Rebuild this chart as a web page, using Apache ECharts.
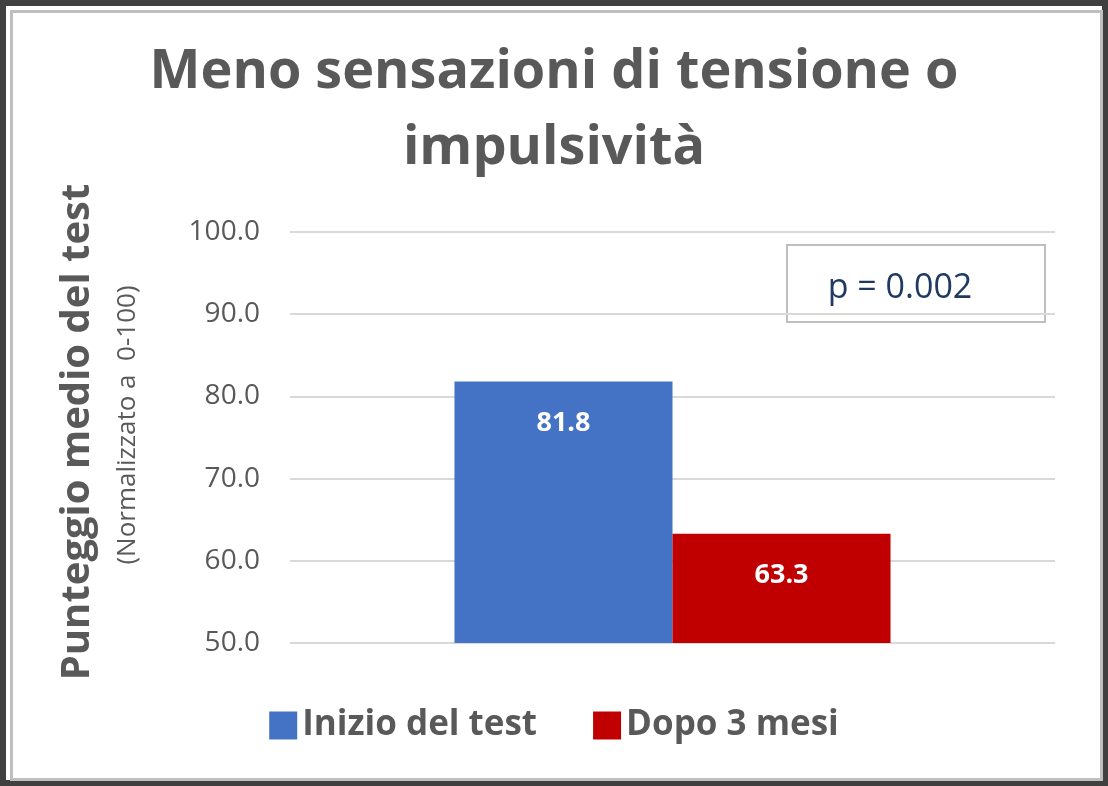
<!DOCTYPE html>
<html>
<head>
<meta charset="utf-8">
<title>Meno sensazioni di tensione o impulsività</title>
<script src="https://cdn.jsdelivr.net/npm/echarts@6/dist/echarts.min.js"></script>
<style>
html,body{margin:0;padding:0;background:#fff;}
#main{width:1108px;height:786px;}
</style>
</head>
<body>
<div id="main"></div>
<script>
var categories = ['Punteggio'];
var seriesNames = ['Inizio del test', 'Dopo 3 mesi'];
var inizio = [81.8];
var dopo = [63.3];
var pValue = 'p = 0.002';

var myChart = echarts.init(document.getElementById('main'));
var font = 'Open Sans, Noto Sans, sans-serif';
var option = {
    animation: false,
    title: {
        text: 'Meno sensazioni di tensione o\nimpulsività',
        left: 'center', top: 30,
        textStyle: { fontFamily: font, fontSize: 54, fontWeight: 'bold', color: '#595959', lineHeight: 76 }
    },
    legend: {
        bottom: 38, left: 'center', itemWidth: 28, itemHeight: 28, itemGap: 56,
        icon: 'rect',
        textStyle: { fontFamily: font, fontSize: 35, color: '#595959', fontWeight: 'bold' }
    },
    grid: { left: 290, right: 53, top: 232, bottom: 143 },
    xAxis: {
        type: 'category', data: categories,
        axisLine: { lineStyle: { color: '#d9d9d9' } },
        axisTick: { show: false }, axisLabel: { show: false }
    },
    yAxis: {
        type: 'value', min: 50, max: 100, interval: 10,
        axisLabel: { fontFamily: font, fontSize: 28, color: '#595959', margin: 30,
            formatter: function (v) { return v.toFixed(1); } },
        splitLine: { lineStyle: { color: '#d9d9d9', width: 2 } }
    },
    series: [
        { name: seriesNames[0], type: 'bar', data: inizio, barGap: '0%', barCategoryGap: '43%',
          itemStyle: { color: '#4472c4' },
          label: { show: true, position: 'insideTop', distance: 28, color: '#fff', fontSize: 27, fontWeight: 'bold', fontFamily: font,
              formatter: function (p) { return p.value.toFixed(1); } } },
        { name: seriesNames[1], type: 'bar', data: dopo,
          itemStyle: { color: '#c00000' },
          label: { show: true, position: 'insideTop', distance: 28, color: '#fff', fontSize: 27, fontWeight: 'bold', fontFamily: font,
              formatter: function (p) { return p.value.toFixed(1); } } }
    ],
    graphic: [
        { type: 'rect', left: 0, top: 0, shape: { x: 3, y: 3, width: 1102, height: 780 },
          style: { fill: 'none', stroke: '#404040', lineWidth: 6 } },
        { type: 'rect', left: 9, top: 9, shape: { x: 0, y: 0, width: 1090, height: 768 },
          style: { fill: 'none', stroke: '#bfbfbf', lineWidth: 3 } },
        { type: 'text', x: 78, y: 432, rotation: Math.PI / 2, style: { text: 'Punteggio medio del test', fill: '#595959',
          font: 'bold 40px ' + font, textAlign: 'center', textVerticalAlign: 'middle' } },
        { type: 'text', x: 128, y: 425, rotation: Math.PI / 2, style: { text: '(Normalizzato a  0-100)', fill: '#595959',
          font: '26px ' + font, textAlign: 'center', textVerticalAlign: 'middle' } },
        { type: 'rect', shape: { x: 787, y: 245, width: 258, height: 77 },
          style: { fill: '#fff', stroke: '#bfbfbf', lineWidth: 2 } },
        { type: 'text', x: 900, y: 288, style: { text: pValue, fill: '#1f3864', font: '34px ' + font,
          textAlign: 'center', textVerticalAlign: 'middle' } }
    ]
};
myChart.setOption(option);
</script>
</body>
</html>
